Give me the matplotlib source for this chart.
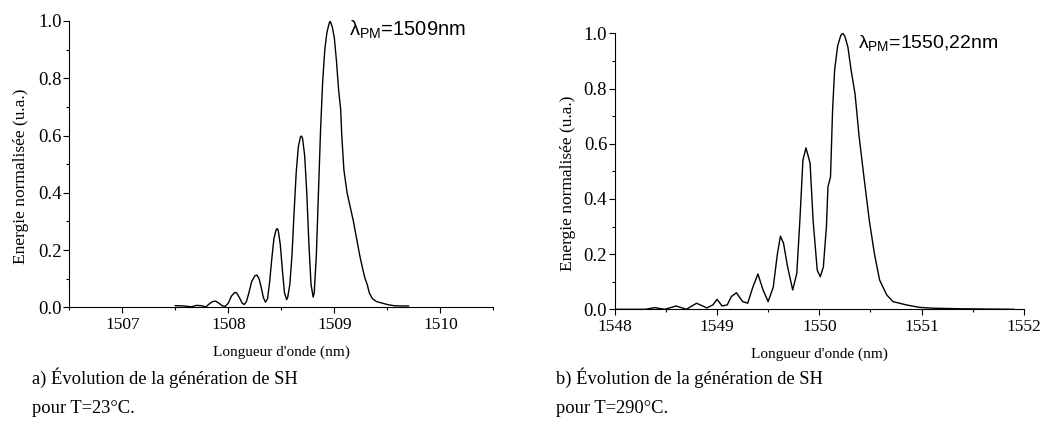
import numpy as np
import matplotlib
matplotlib.use("Agg")
import matplotlib.pyplot as plt
from matplotlib.ticker import MultipleLocator, FormatStrFormatter

# spectra
wl_a = [1507.50, 1507.58, 1507.65, 1507.70, 1507.74, 1507.79, 1507.82, 1507.85,
        1507.88, 1507.91, 1507.94, 1507.97, 1508.00, 1508.03, 1508.06, 1508.08,
        1508.11, 1508.13, 1508.15, 1508.17, 1508.19, 1508.22, 1508.25, 1508.27,
        1508.29, 1508.31, 1508.33, 1508.35, 1508.37, 1508.39, 1508.41, 1508.43,
        1508.45, 1508.46, 1508.47, 1508.49, 1508.51, 1508.53, 1508.55, 1508.56,
        1508.58, 1508.60, 1508.62, 1508.64, 1508.66, 1508.68, 1508.69, 1508.70,
        1508.72, 1508.74, 1508.76, 1508.78, 1508.80, 1508.81, 1508.83, 1508.85,
        1508.87, 1508.89, 1508.91, 1508.93, 1508.95, 1508.96, 1508.98, 1509.00,
        1509.02, 1509.04, 1509.06, 1509.07, 1509.09, 1509.12, 1509.15, 1509.18,
        1509.21, 1509.24, 1509.27, 1509.29, 1509.31, 1509.33, 1509.36, 1509.40,
        1509.45, 1509.50, 1509.56, 1509.62, 1509.70]
en_a = [0.006, 0.005, 0.002, 0.007, 0.006, 0.002, 0.012, 0.020,
        0.022, 0.015, 0.006, 0.003, 0.015, 0.040, 0.052, 0.050,
        0.030, 0.015, 0.010, 0.020, 0.045, 0.090, 0.110, 0.113,
        0.100, 0.070, 0.035, 0.018, 0.030, 0.090, 0.170, 0.240,
        0.270, 0.275, 0.270, 0.220, 0.130, 0.050, 0.027, 0.035,
        0.080, 0.180, 0.330, 0.470, 0.560, 0.595, 0.598, 0.590,
        0.530, 0.400, 0.220, 0.080, 0.036, 0.050, 0.180, 0.400,
        0.620, 0.790, 0.900, 0.960, 0.990, 1.000, 0.980, 0.940,
        0.860, 0.760, 0.690, 0.600, 0.480, 0.400, 0.350, 0.300,
        0.240, 0.180, 0.130, 0.100, 0.080, 0.050, 0.030, 0.020,
        0.015, 0.010, 0.006, 0.005, 0.005]

wl_b = [1548.00, 1548.30, 1548.39, 1548.49, 1548.60, 1548.70, 1548.80, 1548.90,
        1548.96, 1549.00, 1549.05, 1549.10, 1549.14, 1549.19, 1549.25, 1549.30,
        1549.35, 1549.40, 1549.45, 1549.50, 1549.55, 1549.59, 1549.62, 1549.65,
        1549.69, 1549.74, 1549.78, 1549.81, 1549.84, 1549.87, 1549.91, 1549.94,
        1549.98, 1550.01, 1550.04, 1550.07, 1550.085, 1550.11, 1550.13, 1550.15,
        1550.18, 1550.21, 1550.23, 1550.25, 1550.28, 1550.31, 1550.35, 1550.39,
        1550.44, 1550.49, 1550.54, 1550.59, 1550.66, 1550.72, 1550.85, 1550.98,
        1551.11, 1551.37, 1551.90]
en_b = [0.000, 0.000, 0.006, 0.000, 0.012, 0.000, 0.022, 0.005,
        0.016, 0.036, 0.012, 0.016, 0.046, 0.060, 0.028, 0.022,
        0.080, 0.128, 0.070, 0.028, 0.080, 0.200, 0.265, 0.240,
        0.154, 0.070, 0.130, 0.320, 0.540, 0.585, 0.530, 0.320,
        0.142, 0.118, 0.154, 0.300, 0.444, 0.480, 0.720, 0.867,
        0.955, 0.992, 1.000, 0.990, 0.950, 0.870, 0.780, 0.625,
        0.470, 0.320, 0.200, 0.106, 0.052, 0.028, 0.016, 0.007,
        0.004, 0.002, 0.000]

plt.rcParams['mathtext.fontset'] = 'custom'
plt.rcParams['mathtext.rm'] = 'Liberation Sans'
plt.rcParams['mathtext.it'] = 'Liberation Sans'

serif = 'Liberation Serif'
sans = 'Liberation Sans'

fig = plt.figure(figsize=(10.42, 4.36), dpi=100)
ax1 = fig.add_axes([0.0665, 0.295, 0.407, 0.657])
ax2 = fig.add_axes([0.590, 0.2906, 0.3925, 0.633])


def style(ax, xlim):
    ax.set_xlim(*xlim)
    ax.set_ylim(0, 1.0)
    ax.spines['top'].set_visible(False)
    ax.spines['right'].set_visible(False)
    ax.xaxis.set_major_locator(MultipleLocator(1))
    ax.xaxis.set_minor_locator(MultipleLocator(0.5))
    ax.yaxis.set_major_locator(MultipleLocator(0.2))
    ax.yaxis.set_minor_locator(MultipleLocator(0.1))
    ax.yaxis.set_major_formatter(FormatStrFormatter('%.1f'))
    ax.tick_params(which='major', direction='out', length=4.5, width=0.8)
    ax.tick_params(which='minor', direction='out', length=2.2, width=0.8)
    ax.tick_params(axis='x', which='major', pad=2.5)
    ax.tick_params(axis='y', which='major', pad=1)
    for lab in ax.get_xticklabels():
        lab.set_fontfamily(serif)
        lab.set_fontsize(12.5)
    for lab in ax.get_yticklabels():
        lab.set_fontfamily(serif)
        lab.set_fontsize(13.5)
    ax.set_xlabel("Longueur d'onde (nm)", fontfamily=serif, fontsize=11, labelpad=9)
    ax.set_ylabel("Energie normalisée (u.a.)", fontfamily=serif, fontsize=12.5)
    ax.yaxis.set_label_coords(-0.095, 0.458)


ax1.plot(wl_a, en_a, color='black', lw=1)
style(ax1, (1506.5, 1510.5))
ax1.text(349 / 1042, 1 - 36 / 436, r'$\lambda_{\mathrm{PM}}$=1509nm',
         transform=fig.transFigure, fontfamily=sans, fontsize=14.5, va='baseline')

ax2.plot(wl_b, en_b, color='black', lw=1)
style(ax2, (1548, 1552))
ax2.text(858 / 1042, 1 - 48 / 436, r'$\lambda_{\mathrm{PM}}$=1550,22nm',
         transform=fig.transFigure, fontfamily=sans, fontsize=14, va='baseline')

fig.text(32 / 1042, 1 - 378 / 436, "a) Évolution de la génération de SH",
         fontfamily=serif, fontsize=13.3, va='center')
fig.text(32 / 1042, 1 - 408 / 436, "pour T=23°C.",
         fontfamily=serif, fontsize=13.3, va='center')
fig.text(556 / 1042, 1 - 378 / 436, "b) Évolution de la génération de SH",
         fontfamily=serif, fontsize=13.3, va='center')
fig.text(556 / 1042, 1 - 408 / 436, "pour T=290°C.",
         fontfamily=serif, fontsize=13.3, va='center')

fig.savefig('out.png', dpi=100)
